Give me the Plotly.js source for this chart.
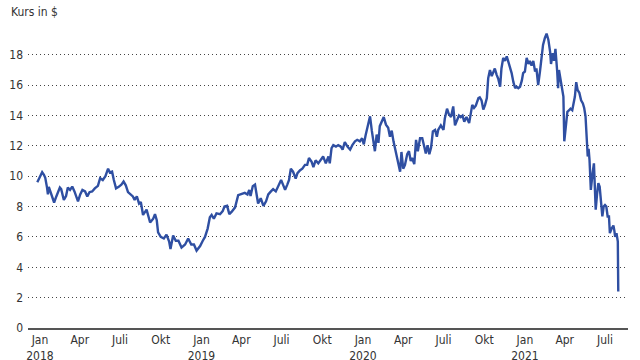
<!DOCTYPE html>
<html>
<head>
<meta charset="utf-8">
<script src="https://cdn.plot.ly/plotly-3.0.1.min.js"></script>
<style>
html,body{margin:0;padding:0;background:#fff;}
#chart{width:640px;height:360px;}
</style>
</head>
<body>
<div id="chart"></div>
<script>
const dates = [
"2017-12-26","2017-12-30","2018-01-06","2018-01-10","2018-01-13","2018-01-17","2018-01-19","2018-01-21","2018-01-25","2018-01-29",
"2018-02-02","2018-02-07","2018-02-15","2018-02-18","2018-02-24","2018-03-01","2018-03-05","2018-03-10","2018-03-15","2018-03-20",
"2018-03-28","2018-04-02","2018-04-07","2018-04-13","2018-04-18","2018-04-23","2018-04-29","2018-05-05","2018-05-12","2018-05-17",
"2018-05-23","2018-05-29","2018-06-04","2018-06-08","2018-06-13","2018-06-17","2018-06-22","2018-06-28","2018-07-04","2018-07-09",
"2018-07-14","2018-07-19","2018-07-24","2018-07-30","2018-08-03","2018-08-08","2018-08-13","2018-08-17","2018-08-22","2018-08-30",
"2018-09-07","2018-09-14","2018-09-18","2018-09-22","2018-09-25","2018-10-01","2018-10-08","2018-10-14","2018-10-20","2018-10-23",
"2018-10-29","2018-11-04","2018-11-10","2018-11-17","2018-11-25","2018-12-02","2018-12-09","2018-12-15","2018-12-21","2018-12-29",
"2019-01-04","2019-01-09","2019-01-15","2019-01-20","2019-01-24","2019-01-29","2019-02-04","2019-02-12","2019-02-18","2019-02-22",
"2019-02-28","2019-03-05","2019-03-10","2019-03-18","2019-03-25","2019-04-02","2019-04-09","2019-04-15","2019-04-19","2019-04-22",
"2019-04-27","2019-05-02","2019-05-06","2019-05-09","2019-05-15","2019-05-21","2019-05-27","2019-06-01","2019-06-07","2019-06-12",
"2019-06-18","2019-06-24","2019-06-30","2019-07-05","2019-07-09","2019-07-14","2019-07-18","2019-07-22","2019-07-27","2019-08-02",
"2019-08-06","2019-08-12","2019-08-17","2019-08-23","2019-08-28","2019-09-01","2019-09-07","2019-09-11","2019-09-16","2019-09-22",
"2019-09-27","2019-10-03","2019-10-09","2019-10-15","2019-10-18","2019-10-22","2019-10-26","2019-11-01","2019-11-06","2019-11-12",
"2019-11-16","2019-11-21","2019-11-27","2019-12-03","2019-12-08","2019-12-14","2019-12-19","2019-12-25","2019-12-30","2020-01-03",
"2020-01-07","2020-01-12","2020-01-17","2020-01-21","2020-01-24","2020-01-28","2020-02-01","2020-02-05","2020-02-08","2020-02-14",
"2020-02-17","2020-02-22","2020-02-27","2020-03-02","2020-03-06","2020-03-10","2020-03-13","2020-03-17","2020-03-21","2020-03-25",
"2020-03-28","2020-04-01","2020-04-05","2020-04-10","2020-04-14","2020-04-18","2020-04-21","2020-04-26","2020-04-30","2020-05-04",
"2020-05-09","2020-05-14","2020-05-19","2020-05-22","2020-05-26","2020-05-30","2020-06-03","2020-06-07","2020-06-12","2020-06-16",
"2020-06-19","2020-06-25","2020-07-01","2020-07-04","2020-07-09","2020-07-13","2020-07-18","2020-07-23","2020-07-27","2020-07-31",
"2020-08-05","2020-08-09","2020-08-13","2020-08-17","2020-08-22","2020-08-28","2020-09-01","2020-09-04","2020-09-08","2020-09-12",
"2020-09-18","2020-09-21","2020-09-25","2020-09-29","2020-10-03","2020-10-07","2020-10-10","2020-10-14","2020-10-18","2020-10-22",
"2020-10-25","2020-10-29","2020-11-02","2020-11-06","2020-11-09","2020-11-13","2020-11-17","2020-11-21","2020-11-24","2020-11-28",
"2020-12-02","2020-12-06","2020-12-10","2020-12-13","2020-12-17","2020-12-21","2020-12-25","2020-12-28","2021-01-01","2021-01-05",
"2021-01-09","2021-01-12","2021-01-16","2021-01-20","2021-01-24","2021-01-27","2021-01-31","2021-02-04","2021-02-08","2021-02-11",
"2021-02-15","2021-02-19","2021-02-23","2021-02-27","2021-03-01","2021-03-05","2021-03-08","2021-03-11","2021-03-15","2021-03-17",
"2021-03-19","2021-03-22","2021-03-25","2021-03-29","2021-03-31","2021-04-04","2021-04-07","2021-04-11","2021-04-14","2021-04-18",
"2021-04-21","2021-04-24","2021-04-27","2021-04-30","2021-05-04","2021-05-08","2021-05-12","2021-05-15","2021-05-18","2021-05-21",
"2021-05-23","2021-05-25","2021-05-27","2021-05-30","2021-06-01","2021-06-03","2021-06-06","2021-06-08","2021-06-10","2021-06-13",
"2021-06-16","2021-06-19","2021-06-22","2021-06-25","2021-06-28","2021-07-01","2021-07-04","2021-07-07","2021-07-10","2021-07-12",
"2021-07-16","2021-07-20","2021-07-22","2021-07-24","2021-07-27","2021-07-30","2021-07-31"
];
const kurs = [
9.6,9.87,10.27,10.1,9.9,9.25,8.8,9.3,9.0,8.67,
8.27,8.67,9.25,9.15,8.44,8.7,9.25,9.1,9.32,9.0,
8.34,8.8,9.1,9.0,8.67,8.95,9.0,9.2,9.37,9.87,
9.75,10.0,10.5,10.25,10.3,9.75,9.2,9.3,9.45,9.65,
9.4,8.95,8.8,8.67,8.44,8.67,8.2,8.3,7.45,7.8,
6.95,7.2,7.5,7.1,6.3,6.0,5.9,6.15,5.7,5.2,
6.1,5.75,5.75,5.3,5.5,5.9,5.5,5.5,5.1,5.4,
5.75,6.0,6.55,7.3,7.45,7.2,7.55,7.5,7.7,8.0,
8.05,7.5,7.65,7.95,8.75,8.85,8.9,8.8,9.1,8.7,
9.35,9.45,8.8,8.2,8.55,8.05,8.35,8.8,9.0,9.15,
9.0,9.4,9.75,9.4,9.1,9.45,9.75,10.5,10.3,9.85,
10.2,10.4,10.5,10.75,10.75,11.2,10.95,10.6,11.05,10.85,
11.05,11.3,10.85,11.3,10.85,11.85,12.05,11.95,12.05,11.95,
11.75,12.25,11.95,11.75,12.05,12.3,12.4,12.3,12.5,12.1,
12.7,13.3,13.95,13.0,12.4,11.65,12.75,12.2,13.3,13.7,
13.9,13.4,13.2,12.6,13.0,12.3,11.9,11.45,10.75,10.3,
11.6,10.5,10.75,11.45,11.65,11.0,11.2,10.8,12.4,11.65,
12.5,12.5,11.9,11.5,12.05,11.45,11.9,12.95,13.05,12.6,
13.05,13.35,13.05,13.8,14.45,14.1,13.9,14.6,13.35,13.6,
14.0,13.9,14.0,13.6,13.9,13.5,14.25,14.7,14.5,14.65,
15.15,15.2,15.0,14.4,14.7,15.15,16.45,17.0,16.6,16.9,
17.1,16.7,16.4,15.9,17.1,17.8,17.6,17.9,17.6,17.1,
16.8,16.2,15.8,15.9,15.8,15.9,16.3,16.8,16.9,17.8,
17.4,17.6,17.3,17.6,16.9,17.1,16.0,16.9,18.1,18.65,
19.1,19.4,19.0,18.2,17.4,18.1,17.6,18.4,16.9,15.8,
17.0,16.5,15.9,15.25,12.3,13.4,14.25,14.35,14.45,14.35,
14.7,15.25,16.2,15.7,15.5,15.0,14.8,14.5,13.95,11.75,
11.3,11.8,11.1,9.1,10.0,10.2,10.85,9.3,7.8,8.8,
9.55,9.3,8.45,7.35,8.0,8.1,8.0,7.35,7.35,6.25,
6.55,6.75,6.45,6.0,6.25,5.7,2.4
];
const tickDates = ["2018-01-01","2018-04-01","2018-07-01","2018-10-01","2019-01-01","2019-04-01","2019-07-01","2019-10-01","2020-01-01","2020-04-01","2020-07-01","2020-10-01","2021-01-01","2021-04-01","2021-07-01"];
const tickLabels = ["Jan<br>2018","Apr","Juli","Okt","Jan<br>2019","Apr","Juli","Okt","Jan<br>2020","Apr","Juli","Okt","Jan<br>2021","Apr","Juli"];
const yTicks = [0,2,4,6,8,10,12,14,16,18];

const fontFam = "Liberation Sans Narrow, DejaVu Sans Condensed, Arial Narrow, sans-serif";

Plotly.newPlot('chart', [{
  x: dates, y: kurs, type: 'scatter', mode: 'lines',
  line: {color: '#2f4fa2', width: 2.4, shape: 'linear'},
  hoverinfo: 'skip'
}], {
  width: 640, height: 360,
  margin: {l: 28, r: 12, t: 26, b: 32},
  paper_bgcolor: '#fff', plot_bgcolor: '#fff',
  showlegend: false,
  font: {family: fontFam, size: 12, color: '#333'},
  title: {text: 'Kurs in $', x: 11/640, xanchor: 'left', xref: 'container', y: 1 - 12/360, yanchor: 'middle', yref: 'container', font: {family: fontFam, size: 12, color: '#333'}},
  xaxis: {
    type: 'date', range: ['2017-12-05', '2021-08-22'],
    tickmode: 'array', tickvals: tickDates, ticktext: tickLabels,
    showgrid: false, zeroline: false, ticks: '',
    showline: true, linecolor: '#555', linewidth: 1.5,
    tickfont: {family: fontFam, size: 12, color: '#333'},
    fixedrange: true
  },
  yaxis: {
    range: [0, 19.9], tickmode: 'array', tickvals: yTicks,
    showgrid: true, gridcolor: '#444', gridwidth: 1, griddash: '1px,3px',
    zeroline: false, ticks: '', showline: false,
    ticklabelstandoff: 4,
    tickfont: {family: fontFam, size: 12, color: '#333'},
    fixedrange: true
  }
}, {staticPlot: true});
</script>
</body>
</html>
